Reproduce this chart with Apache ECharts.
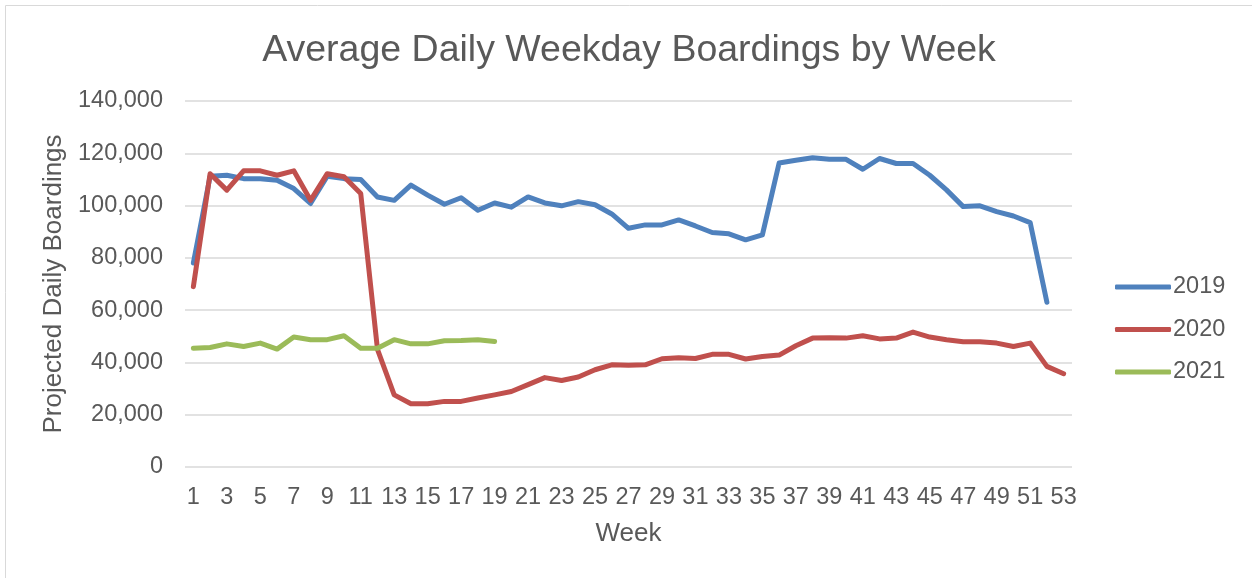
<!DOCTYPE html>
<html>
<head>
<meta charset="utf-8">
<script src="https://cdn.jsdelivr.net/npm/echarts@6/dist/echarts.min.js"></script>
<style>
  html, body { margin: 0; padding: 0; background: #fff; }
  #chart { width: 1252px; height: 578px; }
</style>
</head>
<body>
<div id="chart"></div>
<script>
// week numbers on the category axis
const weeks = ["1","2","3","4","5","6","7","8","9","10","11","12","13","14","15","16","17","18","19","20",
  "21","22","23","24","25","26","27","28","29","30","31","32","33","34","35","36","37","38","39","40",
  "41","42","43","44","45","46","47","48","49","50","51","52","53"];

// average daily weekday boardings
const boardings2019 = [78000,111200,111600,110300,110300,109700,106500,100800,111200,110300,
  110000,103300,102000,107800,104000,100500,103000,98200,101000,99400,
  103300,101000,99900,101500,100300,96800,91300,92600,92600,94500,
  92200,89700,89200,86900,88800,116300,117300,118300,117700,117700,
  113900,118000,116100,116100,111600,106000,99600,99900,97700,96000,
  93500,63000];
const boardings2020 = [69000,112200,105900,113300,113300,111600,113300,102000,112200,111000,
  104600,45000,27600,24200,24200,25100,25100,26400,27600,28900,
  31500,34200,33100,34400,37200,39100,38900,39100,41400,41800,
  41500,43100,43100,41300,42300,42800,46400,49300,49400,49300,
  50200,49000,49300,51600,49700,48700,47900,47900,47400,46100,
  47400,38500,35700];
const boardings2021 = [45400,45700,47100,46100,47400,45100,49700,48700,48700,50200,
  45400,45400,48700,47100,47100,48300,48400,48700,48000];

const textColor = "#595959";
const font = "'Liberation Sans', Arial, sans-serif";

function makeLine(name, data, color) {
  return {
    name: name,
    type: "line",
    data: data,
    symbol: "none",
    color: color,
    lineStyle: { width: 5, color: color, cap: "round", join: "round" },
    emphasis: { disabled: true }
  };
}

const myChart = echarts.init(document.getElementById("chart"));
myChart.setOption({
  animation: false,
  textStyle: { fontFamily: font },
  graphic: [{
    type: "rect",
    shape: { x: 5.5, y: 5.5, width: 1400, height: 700 },
    style: { fill: "none", stroke: "#d9d9d9", lineWidth: 1 },
    silent: true
  }],
  title: {
    text: "Average Daily Weekday Boardings by Week",
    left: 624,
    top: 27,
    textAlign: "center",
    textStyle: { color: textColor, fontSize: 37.5, fontWeight: "normal", fontFamily: font }
  },
  legend: {
    orient: "vertical",
    left: 1110,
    top: 270,
    icon: "roundRect",
    itemWidth: 56,
    itemHeight: 5,
    itemGap: 18.5,
    selectedMode: false,
    data: ["2019", "2020", "2021"],
    textStyle: { color: textColor, fontSize: 23.5, fontFamily: font, padding: [0, 0, 0, -3] }
  },
  grid: { left: 185, right: 180, top: 101, bottom: 111, containLabel: false },
  xAxis: {
    type: "category",
    data: weeks,
    boundaryGap: true,
    name: "Week",
    nameLocation: "middle",
    nameGap: 54,
    nameTextStyle: { color: textColor, fontSize: 26, fontFamily: font },
    axisLine: { show: false },
    axisTick: { show: false },
    axisLabel: { interval: 1, color: textColor, fontSize: 23.5, margin: 19, fontFamily: font }
  },
  yAxis: {
    type: "value",
    min: 0,
    max: 140000,
    interval: 20000,
    name: "Projected Daily Boardings",
    nameLocation: "middle",
    nameGap: 116,
    nameTextStyle: { color: textColor, fontSize: 26, fontFamily: font },
    axisLine: { show: false },
    axisTick: { show: false },
    splitLine: { lineStyle: { color: "#d9d9d9", width: 1.5 } },
    axisLabel: {
      color: textColor,
      fontSize: 23.5,
      margin: 22,
      fontFamily: font,
      formatter: function (v) {
        return v.toLocaleString("en-US");
      }
    }
  },
  series: [
    makeLine("2019", boardings2019, "#4f81bd"),
    makeLine("2020", boardings2020, "#c0504d"),
    makeLine("2021", boardings2021, "#9bbb59")
  ]
});
</script>
</body>
</html>
